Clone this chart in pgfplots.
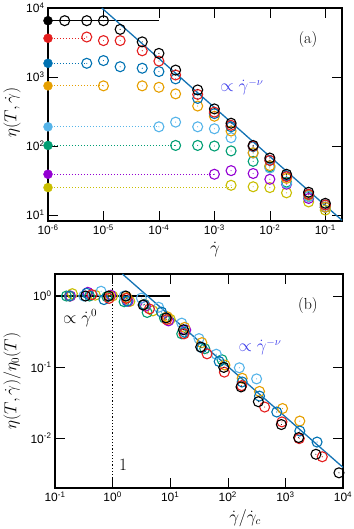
\documentclass[border=0pt]{standalone}
\usepackage{pgfplots}
\pgfplotsset{compat=1.18}
\usepackage{fontspec}
\newfontfamily\helv{Liberation Sans}
\definecolor{cred}{RGB}{228,30,30}
\definecolor{cblue}{RGB}{0,114,178}
\definecolor{corange}{RGB}{230,159,0}
\definecolor{csky}{RGB}{86,180,233}
\definecolor{cgreen}{RGB}{0,158,115}
\definecolor{cpurple}{RGB}{148,0,211}
\definecolor{cyellow}{RGB}{200,190,0}
\definecolor{cline}{RGB}{20,115,180}
\definecolor{ctext}{RGB}{60,60,235}
\pgfdeclareplotmark{odot}{%
  \pgfpathcircle{\pgfpointorigin}{\pgfplotmarksize}\pgfusepathqstroke
  \pgfpathcircle{\pgfpointorigin}{0.55pt}\pgfusepathqfill}
\pgfplotsset{log number format basis/.code 2 args={10\textsuperscript{\pgfmathparse{int(round(#2))}\pgfmathresult}}}
\pgfplotsset{
  every axis/.append style={
    scale only axis, xmode=log, ymode=log, log basis x=10, log basis y=10,
    axis line style={line width=1.3pt}, clip=false,
    tick style={black, line width=0.6pt},
    major tick length=10pt, minor tick length=5pt,
    tick align=inside,
    ticklabel style={font=\helv\fontsize{12}{12}\selectfont},
    label style={font=\fontsize{16}{18}\selectfont},
  },
  op/.style={only marks, mark=odot, mark size=5pt, line width=1.1pt},
  fp/.style={only marks, mark=*, mark size=4.5pt},
  dl/.style={dotted, line width=1pt},
}
\begin{document}
\begin{tikzpicture}
\path[use as bounding box] (0,0) rectangle (353pt,-529pt);
% ---------------- top panel ----------------
\begin{axis}[
  at={(48pt,-221pt)}, anchor=south west, width=294pt, height=213pt,
  xmin=1e-6, xmax=0.2, ymin=8.2, ymax=1e4,
  xtick={1e-6,1e-5,1e-4,1e-3,1e-2,1e-1},
  ytick={10,100,1000,10000},
]
% yellow
\addplot[cyellow, dl] coordinates {(1e-6,25) (2e-3,25)};
\addplot[cyellow, fp] coordinates {(1e-6,25)};
\addplot[cyellow, op] coordinates {(2e-3,27) (5e-3,25.7) (1e-2,25) (2e-2,21) (5e-2,15.5) (1e-1,11.8)};
% purple
\addplot[cpurple, dl] coordinates {(1e-6,39) (1e-3,39)};
\addplot[cpurple, fp] coordinates {(1e-6,39)};
\addplot[cpurple, op] coordinates {(1e-3,39) (2e-3,44) (5e-3,40) (1e-2,33) (2e-2,28) (5e-2,17.4) (1e-1,13)};
% green
\addplot[cgreen, dl] coordinates {(1e-6,102) (2e-4,102)};
\addplot[cgreen, fp] coordinates {(1e-6,102)};
\addplot[cgreen, op] coordinates {(2e-4,102) (5e-4,102) (1e-3,100) (2e-3,85) (5e-3,60) (1e-2,50) (2e-2,30) (5e-2,18.6) (1e-1,13)};
% sky
\addplot[csky, dl] coordinates {(1e-6,190) (1e-4,190)};
\addplot[csky, fp] coordinates {(1e-6,190)};
\addplot[csky, op] coordinates {(1e-4,190) (2e-4,222) (5e-4,190) (1e-3,178) (2e-3,132) (5e-3,79) (1e-2,48) (2e-2,29) (5e-2,18.6) (1e-1,13)};
% orange
\addplot[corange, dl] coordinates {(1e-6,745) (1e-5,745)};
\addplot[corange, fp] coordinates {(1e-6,745)};
\addplot[corange, op] coordinates {(1e-5,745) (5e-5,745) (1e-4,710) (2e-4,570) (5e-4,380) (1e-3,270) (2e-3,165) (5e-3,80) (1e-2,52) (2e-2,34) (5e-2,19.5) (1e-1,13)};
% blue
\addplot[cblue, dl] coordinates {(1e-6,1580) (5e-6,1580)};
\addplot[cblue, fp] coordinates {(1e-6,1580)};
\addplot[cblue, op] coordinates {(5e-6,1580) (1e-5,1730) (2e-5,1410) (5e-5,1340) (1e-4,1200) (2e-4,940) (5e-4,490) (1e-3,295) (2e-3,190) (5e-3,98) (1e-2,62) (2e-2,37) (5e-2,20) (1e-1,14)};
% red
\addplot[cred, dl] coordinates {(1e-6,3640) (5e-6,3640)};
\addplot[cred, fp] coordinates {(1e-6,3640)};
\addplot[cred, op] coordinates {(5e-6,3800) (1e-5,3370) (2e-5,3370) (5e-5,2400) (1e-4,1700) (2e-4,1070) (5e-4,560) (1e-3,310) (2e-3,200) (5e-3,100) (1e-2,62) (2e-2,36) (5e-2,20) (1e-1,14)};
% black
\addplot[black, line width=1.3pt] coordinates {(1e-6,6550) (1e-4,6550)};
\addplot[black, fp] coordinates {(1e-6,6550)};
\addplot[black, op] coordinates {(2e-6,6550) (5e-6,6550) (1e-5,6550) (2e-5,4900) (5e-5,3230) (1e-4,2200) (2e-4,1260) (5e-4,650) (1e-3,345) (2e-3,214) (5e-3,102) (1e-2,67) (2e-2,39) (5e-2,21.4) (1e-1,14.8)};
% power law
\addplot[cline, line width=1.3pt] coordinates {(9.33e-6,10000) (0.2,8.4)};
\node[font=\fontsize{16}{18}\selectfont] at (rel axis cs:0.884,0.85) {(a)};
\node[font=\fontsize{16}{18}\selectfont, text=ctext] at (rel axis cs:0.66,0.629) {$\propto\dot\gamma^{-\nu}$};
\node[font=\fontsize{16}{18}\selectfont] at (rel axis cs:0.568,-0.136) {$\dot\gamma$};
\node[font=\fontsize{16}{18}\selectfont, rotate=90] at (rel axis cs:-0.122,0.51) {$\eta(T,\dot\gamma)$};
\end{axis}
% ---------------- bottom panel ----------------
\begin{axis}[
  at={(55pt,-488pt)}, anchor=south west, width=288pt, height=214pt,
  xmin=0.1, xmax=1e4, ymin=0.002, ymax=2.04,
  xtick={0.1,1,10,100,1000,10000},
  ytick={0.01,0.1,1},
]
\addplot[black, dotted, line width=1.2pt] coordinates {(1,0.002) (1,2.04)};
\addplot[black, line width=1.3pt] coordinates {(0.1,1) (10,1)};
\addplot[cyellow, op] coordinates {(0.200,1.079) (0.501,1.028) (1.0,1.0) (1.995,0.839) (5.012,0.619) (10.0,0.472)};
\addplot[cpurple, op] coordinates {(0.186,1.0) (0.372,1.127) (0.933,1.026) (1.862,0.847) (3.715,0.718) (9.333,0.447) (18.62,0.333)};
\addplot[cgreen, op] coordinates {(0.158,1.0) (0.398,1.0) (0.794,0.979) (1.585,0.832) (3.981,0.587) (7.943,0.490) (15.85,0.294) (39.81,0.182) (79.43,0.127)};
\addplot[csky, op] coordinates {(0.316,1.0) (0.631,1.167) (1.585,1.0) (3.162,0.935) (6.310,0.695) (15.85,0.416) (31.62,0.252) (63.10,0.152) (158.5,0.0980) (316.2,0.0684)};
\addplot[corange, op] coordinates {(0.178,1.0) (0.891,1.0) (1.778,0.953) (3.548,0.766) (8.913,0.511) (17.78,0.362) (35.48,0.221) (89.13,0.107) (177.8,0.0698) (354.8,0.0456) (891.3,0.0262) (1778,0.01746)};
\addplot[cblue, op] coordinates {(0.178,1.0) (0.355,1.094) (0.708,0.891) (1.778,0.847) (3.548,0.759) (7.079,0.594) (17.78,0.310) (35.48,0.187) (70.79,0.120) (177.8,0.0619) (354.8,0.0392) (707.9,0.0234) (1778,0.01265) (3548,0.00885)};
\addplot[cred, op] coordinates {(0.437,1.045) (0.871,0.927) (1.738,0.927) (4.365,0.659) (8.710,0.467) (17.38,0.294) (43.65,0.154) (87.10,0.0851) (173.8,0.0550) (436.5,0.0275) (871.0,0.0170) (1738,0.00989) (4365,0.00550)};
\addplot[black, op] coordinates {(0.339,1.0) (0.851,1.0) (1.698,1.0) (3.388,0.748) (8.511,0.493) (16.98,0.336) (33.88,0.192) (85.11,0.0993) (169.8,0.0527) (338.8,0.0327) (851.1,0.0156) (1698,0.01023) (3388,0.00596) (8511,0.00327)};
\addplot[cline, line width=1.3pt] coordinates {(1.48,2.04) (10000,0.0039)};
\node[font=\fontsize{16}{18}\selectfont] at (rel axis cs:0.878,0.855) {(b)};
\node[font=\fontsize{16}{18}\selectfont, text=ctext] at (rel axis cs:0.712,0.659) {$\propto\dot\gamma^{-\nu}$};
\node[font=\fontsize{16}{18}\selectfont] at (rel axis cs:0.087,0.794) {$\propto\dot\gamma^{0}$};
\node[font=\fontsize{16}{18}\selectfont] at (rel axis cs:0.236,0.107) {$1$};
\node[font=\fontsize{16}{18}\selectfont] at (rel axis cs:0.66,-0.14) {$\dot\gamma/\dot\gamma_c$};
\node[font=\fontsize{16}{18}\selectfont, rotate=90] at (rel axis cs:-0.149,0.50) {$\eta(T,\dot\gamma)/\eta_0(T)$};
\end{axis}
\end{tikzpicture}
\end{document}
